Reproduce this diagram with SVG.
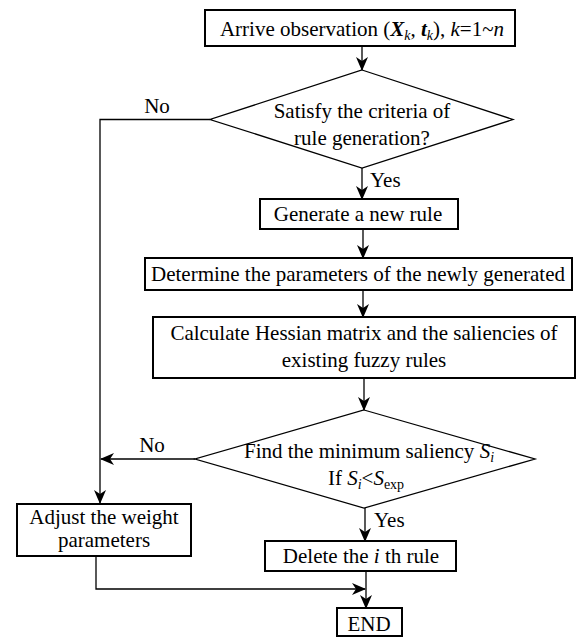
<svg xmlns="http://www.w3.org/2000/svg" width="583" height="637" viewBox="0 0 583 637">
<defs>
<marker id="ah" viewBox="0 0 14 12" refX="13" refY="6" markerWidth="14" markerHeight="12" markerUnits="userSpaceOnUse" orient="auto">
<path d="M0,0 L14,6 L0,12 L4,6 z" fill="#000"/>
</marker>
<style>
text{font-family:"Liberation Serif","Times New Roman",serif;font-size:21px;fill:#000}
.c{text-anchor:middle}
.box{fill:#fff;stroke:#000;stroke-width:2}
.dia{fill:#fff;stroke:#000;stroke-width:1.3}
.ln{fill:none;stroke:#000;stroke-width:1.3}
.arr{fill:none;stroke:#000;stroke-width:1.3;marker-end:url(#ah)}
.i{font-style:italic}
.bi{font-style:italic;font-weight:bold}
</style>
</defs>
<g id="connectors">
<line class="arr" x1="362" y1="46" x2="362" y2="70"/>
<polyline class="arr" points="210,119.5 100,119.5 100,503"/>
<line class="arr" x1="362" y1="168" x2="362" y2="199"/>
<line class="arr" x1="363" y1="229" x2="363" y2="258"/>
<line class="arr" x1="363" y1="290" x2="363" y2="317"/>
<line class="arr" x1="364" y1="378" x2="364" y2="410"/>
<line class="arr" x1="195" y1="459" x2="101" y2="459"/>
<line class="arr" x1="365" y1="508" x2="365" y2="541"/>
<polyline class="arr" points="96,556 96,589 365,589"/>
<line class="arr" x1="366" y1="571" x2="366" y2="608"/>
<text x="157" y="113" class="c">No</text>
<text x="370" y="187">Yes</text>
<text x="152" y="452" class="c">No</text>
<text x="374" y="527">Yes</text>
</g>
<g id="start">
<rect class="box" x="205" y="10" width="310" height="36"/>
<text x="362" y="36" class="c">Arrive observation (<tspan class="bi">X</tspan><tspan class="i" font-size="14" dy="4">k</tspan><tspan dy="-4">, </tspan><tspan class="bi">t</tspan><tspan class="i" font-size="14" dy="4">k</tspan><tspan dy="-4">), </tspan><tspan class="i">k</tspan>=1~<tspan class="i">n</tspan></text>
</g>
<g id="decision1">
<polygon class="dia" points="362,70 513,119.5 362,168 210,119.5"/>
<text x="362" y="118" class="c">Satisfy the criteria of</text>
<text x="362" y="145" class="c">rule generation?</text>
</g>
<g id="generate">
<rect class="box" x="260" y="199" width="198" height="30"/>
<text x="358" y="221" class="c">Generate a new rule</text>
</g>
<g id="determine">
<rect class="box" x="145" y="258" width="427" height="32"/>
<text x="358" y="281" class="c">Determine the parameters of the newly generated</text>
</g>
<g id="calculate">
<rect class="box" x="153" y="317" width="422" height="61"/>
<text x="364" y="340" class="c">Calculate Hessian matrix and the saliencies of</text>
<text x="364" y="367" class="c">existing fuzzy rules</text>
</g>
<g id="decision2">
<polygon class="dia" points="364,410 535,459 364,508 195,459"/>
<text x="369" y="458" class="c">Find the minimum saliency <tspan class="i">S</tspan><tspan class="i" font-size="14" dy="4">i</tspan></text>
<text x="366" y="485" class="c">If <tspan class="i">S</tspan><tspan class="i" font-size="14" dy="4">i</tspan><tspan dy="-4">&lt;</tspan><tspan class="i">S</tspan><tspan font-size="14" dy="4">exp</tspan></text>
</g>
<g id="adjust">
<rect class="box" x="17" y="504" width="174" height="52"/>
<text x="104" y="524" class="c">Adjust the weight</text>
<text x="104" y="547" class="c">parameters</text>
</g>
<g id="delete">
<rect class="box" x="265" y="541" width="191" height="30"/>
<text x="361" y="563" class="c">Delete the <tspan class="i">i</tspan> th rule</text>
</g>
<g id="end">
<rect class="box" x="337" y="608" width="65" height="28"/>
<text x="369" y="631" class="c">END</text>
</g>
</svg>
